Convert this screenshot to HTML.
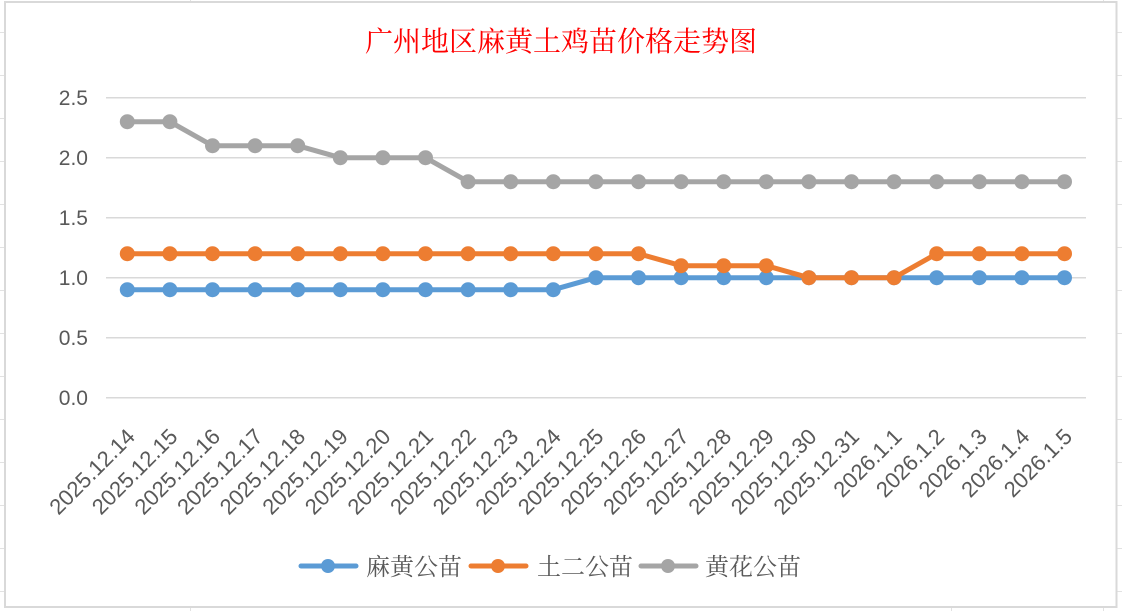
<!DOCTYPE html>
<html><head><meta charset="utf-8"><style>
html,body{margin:0;padding:0;background:#fff;}
svg{display:block;}
</style></head><body>
<svg width="1122" height="611" viewBox="0 0 1122 611" xmlns="http://www.w3.org/2000/svg">
<rect width="1122" height="611" fill="#fff"/>
<g stroke="#E2E2E2" stroke-width="1">
<line x1="0" y1="32.5" x2="5" y2="32.5"/><line x1="0" y1="75.5" x2="5" y2="75.5"/><line x1="0" y1="118.5" x2="5" y2="118.5"/><line x1="0" y1="161.5" x2="5" y2="161.5"/><line x1="0" y1="204.5" x2="5" y2="204.5"/><line x1="0" y1="247.5" x2="5" y2="247.5"/><line x1="0" y1="290.5" x2="5" y2="290.5"/><line x1="0" y1="333.5" x2="5" y2="333.5"/><line x1="0" y1="376.5" x2="5" y2="376.5"/><line x1="0" y1="419.5" x2="5" y2="419.5"/><line x1="0" y1="462.5" x2="5" y2="462.5"/><line x1="0" y1="505.5" x2="5" y2="505.5"/><line x1="0" y1="548.5" x2="5" y2="548.5"/><line x1="0" y1="591.5" x2="5" y2="591.5"/>
<line x1="1117" y1="32.5" x2="1122" y2="32.5"/><line x1="1117" y1="75.5" x2="1122" y2="75.5"/><line x1="1117" y1="118.5" x2="1122" y2="118.5"/><line x1="1117" y1="161.5" x2="1122" y2="161.5"/><line x1="1117" y1="204.5" x2="1122" y2="204.5"/><line x1="1117" y1="247.5" x2="1122" y2="247.5"/><line x1="1117" y1="290.5" x2="1122" y2="290.5"/><line x1="1117" y1="333.5" x2="1122" y2="333.5"/><line x1="1117" y1="376.5" x2="1122" y2="376.5"/><line x1="1117" y1="419.5" x2="1122" y2="419.5"/><line x1="1117" y1="462.5" x2="1122" y2="462.5"/><line x1="1117" y1="505.5" x2="1122" y2="505.5"/><line x1="1117" y1="548.5" x2="1122" y2="548.5"/><line x1="1117" y1="591.5" x2="1122" y2="591.5"/>
<line x1="190.5" y1="0" x2="190.5" y2="2"/><line x1="1103.5" y1="0" x2="1103.5" y2="2"/>
<line x1="190.5" y1="608" x2="190.5" y2="611"/><line x1="951.5" y1="608" x2="951.5" y2="611"/><line x1="1103.5" y1="608" x2="1103.5" y2="611"/>
</g>
<rect x="5" y="2" width="1111.5" height="605" fill="#fff" stroke="#D9D9D9" stroke-width="2"/>

<text x="561" y="51" text-anchor="middle" font-family="'Liberation Serif','Noto Serif CJK SC',serif" font-size="28" fill="#FF0000">广州地区麻黄土鸡苗价格走势图</text>

<g stroke="#D9D9D9" stroke-width="1.5">
<line x1="106" y1="97.7" x2="1086" y2="97.7"/>
<line x1="106" y1="157.7" x2="1086" y2="157.7"/>
<line x1="106" y1="217.7" x2="1086" y2="217.7"/>
<line x1="106" y1="277.7" x2="1086" y2="277.7"/>
<line x1="106" y1="337.7" x2="1086" y2="337.7"/>
<line x1="106" y1="397.7" x2="1086" y2="397.7"/>
</g>

<g font-family="'Liberation Sans',sans-serif" font-size="21" fill="#595959" text-anchor="end">
<text x="88" y="105">2.5</text>
<text x="88" y="165">2.0</text>
<text x="88" y="225">1.5</text>
<text x="88" y="285">1.0</text>
<text x="88" y="345">0.5</text>
<text x="88" y="405">0.0</text>
</g>

<g id="xl" font-family="'Liberation Sans',sans-serif" font-size="22" fill="#595959" text-anchor="end"></g>

<g id="series"></g>

<g>
<line x1="301" y1="566" x2="356" y2="566" stroke="#5B9BD5" stroke-width="5" stroke-linecap="round"/>
<circle cx="328" cy="566" r="7" fill="#5B9BD5"/>
<line x1="471" y1="566" x2="526" y2="566" stroke="#ED7D31" stroke-width="5" stroke-linecap="round"/>
<circle cx="498" cy="566" r="7" fill="#ED7D31"/>
<line x1="641" y1="566" x2="696" y2="566" stroke="#A5A5A5" stroke-width="5" stroke-linecap="round"/>
<circle cx="668" cy="566" r="7" fill="#A5A5A5"/>
</g>
<g font-family="'Liberation Serif','Noto Serif CJK SC',serif" font-size="24" fill="#595959">
<text x="366" y="575">麻黄公苗</text>
<text x="537" y="575">土二公苗</text>
<text x="705" y="575">黄花公苗</text>
</g>

<script>
(function(){
var labels=["2025.12.14","2025.12.15","2025.12.16","2025.12.17","2025.12.18","2025.12.19","2025.12.20","2025.12.21","2025.12.22","2025.12.23","2025.12.24","2025.12.25","2025.12.26","2025.12.27","2025.12.28","2025.12.29","2025.12.30","2025.12.31","2026.1.1","2026.1.2","2026.1.3","2026.1.4","2026.1.5"];
var blue=[0.9,0.9,0.9,0.9,0.9,0.9,0.9,0.9,0.9,0.9,0.9,1,1,1,1,1,1,1,1,1,1,1,1];
var orange=[1.2,1.2,1.2,1.2,1.2,1.2,1.2,1.2,1.2,1.2,1.2,1.2,1.2,1.1,1.1,1.1,1,1,1,1.2,1.2,1.2,1.2];
var gray=[2.3,2.3,2.1,2.1,2.1,2,2,2,1.8,1.8,1.8,1.8,1.8,1.8,1.8,1.8,1.8,1.8,1.8,1.8,1.8,1.8,1.8];
var NS="http://www.w3.org/2000/svg";
function cx(i){return 127.3+i*42.6;}
function cy(v){return 397.7-v*120;}
var xl=document.getElementById("xl");
labels.forEach(function(l,i){
  var t=document.createElementNS(NS,"text");
  var ex=cx(i)+9, ey=438;
  t.setAttribute("x",ex);t.setAttribute("y",ey);
  t.setAttribute("transform","rotate(-45 "+ex+" "+ey+")");
  t.textContent=l;xl.appendChild(t);
});
var g=document.getElementById("series");
[[blue,"#5B9BD5"],[orange,"#ED7D31"],[gray,"#A5A5A5"]].forEach(function(s){
  var d=s[0].map(function(v,i){return (i?"L":"M")+cx(i).toFixed(1)+" "+cy(v).toFixed(1);}).join(" ");
  var p=document.createElementNS(NS,"path");
  p.setAttribute("d",d);p.setAttribute("fill","none");p.setAttribute("stroke",s[1]);
  p.setAttribute("stroke-width","5");p.setAttribute("stroke-linejoin","round");p.setAttribute("stroke-linecap","round");
  g.appendChild(p);
  s[0].forEach(function(v,i){
    var c=document.createElementNS(NS,"circle");
    c.setAttribute("cx",cx(i).toFixed(1));c.setAttribute("cy",cy(v).toFixed(1));
    c.setAttribute("r","7.5");c.setAttribute("fill",s[1]);g.appendChild(c);
  });
});
})();
</script>
</svg>
</body></html>
